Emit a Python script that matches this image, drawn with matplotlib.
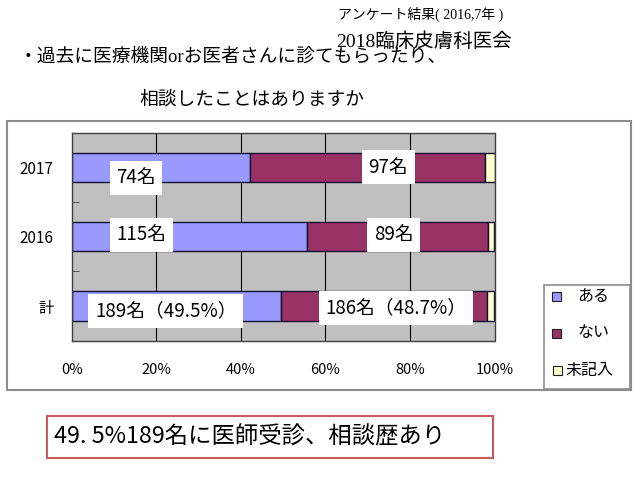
import matplotlib
matplotlib.use("Agg")
import matplotlib.pyplot as plt
from matplotlib.patches import Rectangle
import numpy as np

plt.rcParams['font.family'] = ['Noto Sans CJK JP', 'DejaVu Sans']

# data
categories = ['2017', '2016', '計']
aru = [74, 115, 189]       # ある
nai = [97, 89, 186]        # ない
mikinyu = [4, 3, 7]        # 未記入
aru_labels = ['74名', '115名', '189名（49.5%）']
nai_labels = ['97名', '89名', '186名（48.7%）']
series_names = ['ある', 'ない', '未記入']
series_colors = ['#9999ff', '#993366', '#ffffcc']
xticks = [0, 20, 40, 60, 80, 100]

# layout (pixels of a 640x480 canvas)
W, H = 640.0, 480.0
def fx(px):
    return px / W
def fy(py):
    return 1 - py / H

fig = plt.figure(figsize=(6.4, 4.8), dpi=100)
fig.patch.set_facecolor('white')

# chart frame
fig.patches.append(Rectangle((fx(7), fy(390)), fx(631) - fx(7), fy(121) - fy(390),
                             transform=fig.transFigure, fill=False,
                             edgecolor='#8c8c8c', lw=1.5, zorder=0))

ax = fig.add_axes([fx(71.7), fy(340.7), fx(494.5) - fx(71.7), fy(132.7) - fy(340.7)])
ax.set_facecolor('#c0c0c0')

totals = np.array(aru) + np.array(nai) + np.array(mikinyu)
p_aru = np.array(aru) / totals * 100
p_nai = np.array(nai) / totals * 100
p_mik = np.array(mikinyu) / totals * 100
y = np.arange(len(categories))

for xv in xticks[1:-1]:
    ax.axvline(xv, color='black', lw=0.8, zorder=1)

bh = 0.42
ax.barh(y, p_aru, height=bh, color=series_colors[0], edgecolor='#101030', lw=1, zorder=2)
ax.barh(y, p_nai, left=p_aru, height=bh, color=series_colors[1], edgecolor='#101030', lw=1, zorder=2)
ax.barh(y, p_mik, left=p_aru + p_nai, height=bh, color=series_colors[2], edgecolor='#101030', lw=1, zorder=2)

ax.set_xlim(0, 100)
ax.set_ylim(2.5, -0.5)
ax.set_xticks(xticks)
ax.set_xticklabels([f'{v}%' for v in xticks], fontsize=10.5)
ax.tick_params(axis='x', length=0, pad=16)
ax.set_yticks(y)
ax.set_yticklabels(categories, fontsize=11)
ax.tick_params(axis='y', which='major', length=0, pad=13)
ax.set_yticks([0.5, 1.5], minor=True)
ax.tick_params(axis='y', which='minor', direction='in', length=5, color='#404040')
for s in ax.spines.values():
    s.set_color('#404040')
    s.set_linewidth(1)

# value boxes
aru_x = [10.5, 10.5, 5.5]
aru_dy = [0.15, -0.03, 0.07]
nai_x = [74.9, 76.1, 76.7]
nai_dy = [0.0, -0.03, 0.03]
box = dict(boxstyle='square,pad=0.35', fc='white', ec='none')
for i in range(len(categories)):
    ax.text(aru_x[i], y[i] + aru_dy[i], aru_labels[i], ha='left', va='center',
            fontsize=13.5, bbox=box, zorder=4)
    ax.text(nai_x[i], y[i] + nai_dy[i], nai_labels[i], ha='center', va='center',
            fontsize=13.5, bbox=box, zorder=4)

# legend
fig.patches.append(Rectangle((fx(544), fy(389)), fx(630) - fx(544), fy(285) - fy(389),
                             transform=fig.transFigure, facecolor='white',
                             edgecolor='#8c8c8c', lw=1.2, zorder=1))
leg_y = [296, 333, 370]
leg_sq_x = [551.5, 551.5, 552.5]
leg_tx = [577, 577, 565]
for i, name in enumerate(series_names):
    fig.patches.append(Rectangle((fx(leg_sq_x[i]), fy(leg_y[i] + 4.5)), fx(9), 9 / H,
                                 transform=fig.transFigure, facecolor=series_colors[i],
                                 edgecolor='#202020', lw=0.8, zorder=2))
    fig.text(fx(leg_tx[i]), fy(leg_y[i]), name, ha='left', va='center', fontsize=11.5)

# titles
serif_jp = ['Liberation Serif', 'Noto Sans CJK JP']
fig.text(fx(503), fy(14), 'アンケート結果( 2016,7年 )', ha='right', va='center',
         fontsize=10, family=serif_jp)
fig.text(fx(512), fy(42), '2018臨床皮膚科医会', ha='right', va='center',
         fontsize=14, family=serif_jp)
fig.text(fx(19), fy(57), '・過去に医療機関orお医者さんに診てもらったり、', ha='left',
         va='center', fontsize=13.5, family=serif_jp)
fig.text(fx(252), fy(100), '相談したことはありますか', ha='center', va='center',
         fontsize=13.5, family=serif_jp)

# summary box
fig.patches.append(Rectangle((fx(47), fy(458)), fx(493) - fx(47), fy(416) - fy(458),
                             transform=fig.transFigure, fill=False,
                             edgecolor='#c85a5a', lw=1.5))
fig.text(fx(54), fy(437), '49. 5%189名に医師受診、相談歴あり', ha='left', va='center',
         fontsize=16.8)

fig.savefig('out.png', dpi=100)
plt.close(fig)
